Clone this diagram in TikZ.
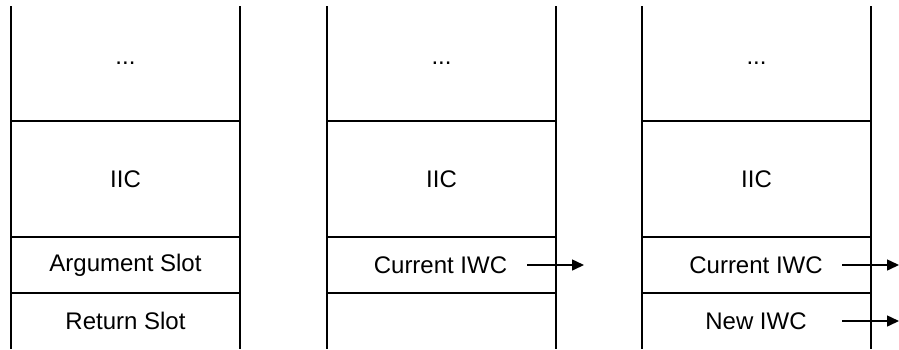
\documentclass[tikz,border=0pt]{standalone}
\usepackage{fontspec}
\setmainfont{Liberation Sans}
\usetikzlibrary{arrows.meta}
\begin{document}
\begin{tikzpicture}[x=1pt,y=-1pt,
  wall/.style={line width=1.5pt,black},
  cell/.style={draw=none,inner sep=0pt,font=\fontsize{24}{28}\selectfont},
  ptr/.style={line width=1.5pt,-{Triangle[length=12pt,width=11pt]}}]
\useasboundingbox (0,0) rectangle (899,349);
% three stack frames: left edge, right edge
\foreach \n/\l/\r in {a/11/240,b/327/556,c/642/871}{
  \draw[wall] (\l,6) -- (\l,349);
  \draw[wall] (\r,6) -- (\r,349);
  \foreach \y in {121,237,293}
    \draw[wall] (\l,\y) -- (\r,\y);
  \node[cell] (\n top) at ({(\l+\r)/2},63.5) {...};
  \node[cell] (\n iic) at ({(\l+\r)/2},179) {IIC};
}
\node[cell] (a arg) at (125.5,265) {Argument Slot};
\node[cell] (a ret) at (125.5,321) {Return Slot};
\node[cell] (b cur) at (440.5,265) {Current IWC};
\node[cell] (c cur) at (756,265) {Current IWC};
\node[cell] (c new) at (756,321) {New IWC};
% pointers out of the frames
\coordinate (b cur s) at (527,265);
\coordinate (b cur e) at (584,265);
\coordinate (c cur s) at (842,265);
\coordinate (c cur e) at (899,265);
\coordinate (c new s) at (842,321);
\coordinate (c new e) at (899,321);
\draw[ptr] (b cur s) -- (b cur e);
\draw[ptr] (c cur s) -- (c cur e);
\draw[ptr] (c new s) -- (c new e);
\end{tikzpicture}
\end{document}
